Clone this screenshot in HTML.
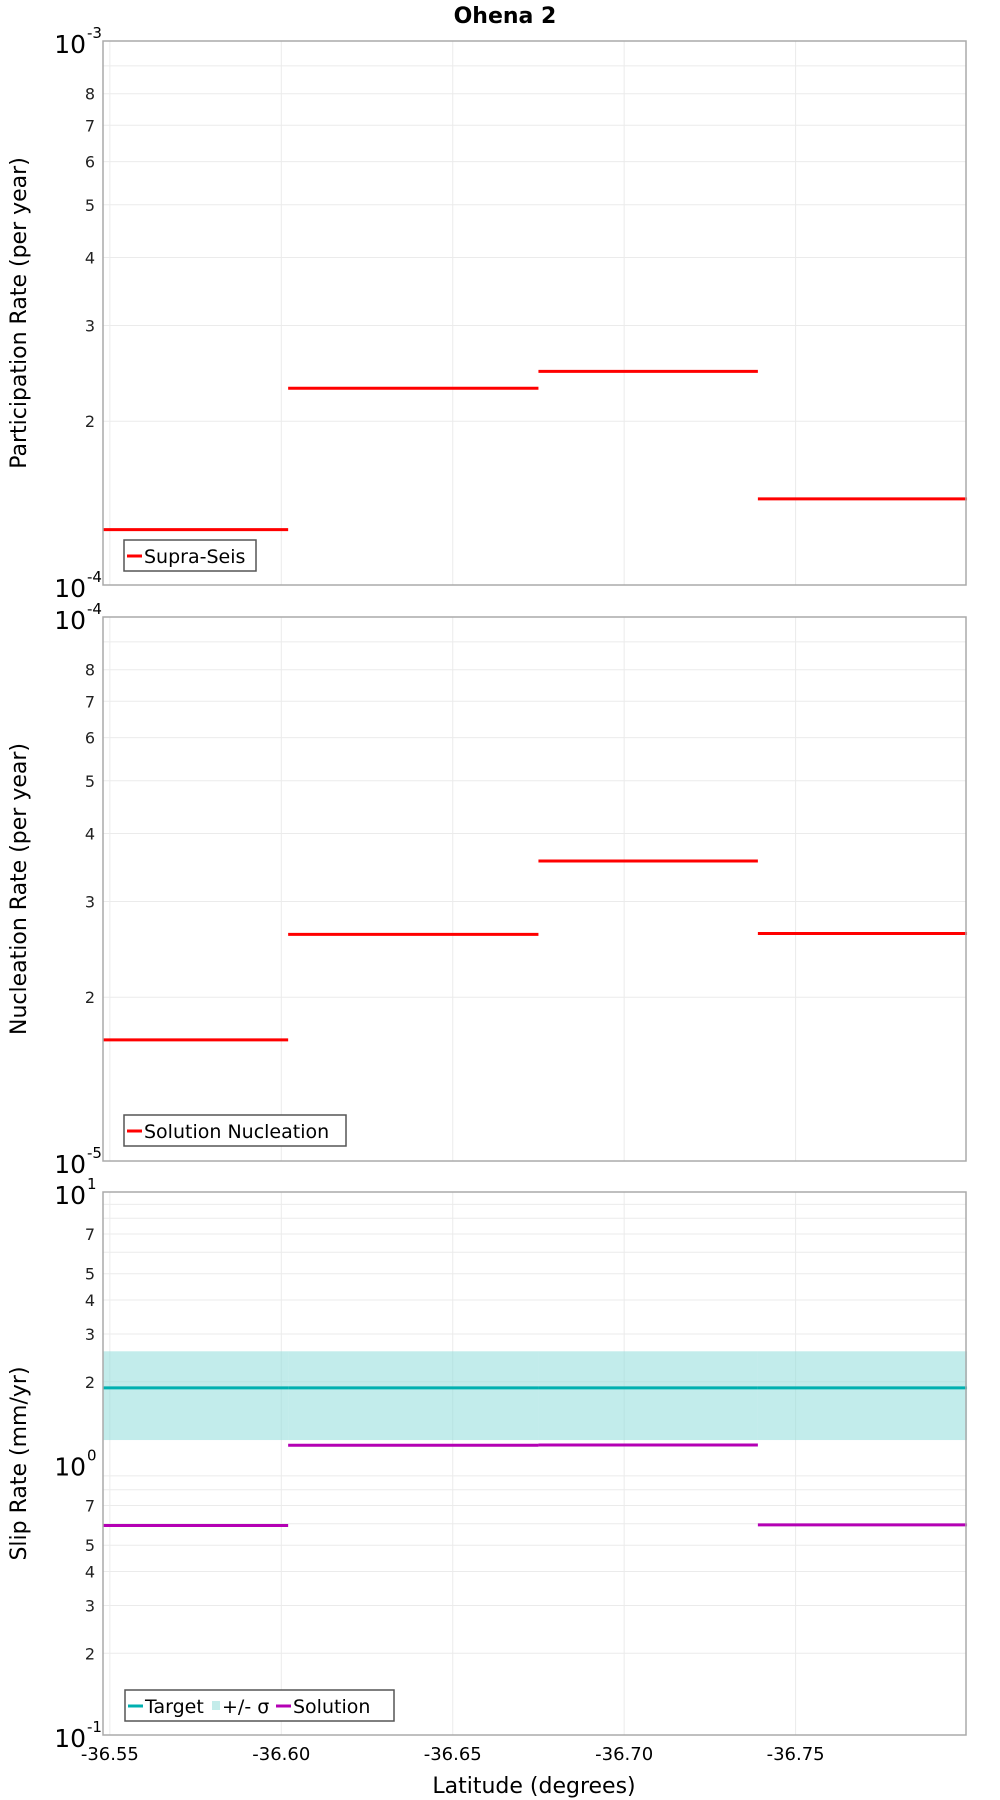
<!DOCTYPE html>
<html><head><meta charset="utf-8"><style>
html,body{margin:0;padding:0;background:#fff;}
svg{display:block;font-family:"DejaVu Sans","Liberation Sans",sans-serif;}
</style></head><body>
<svg id="chart" width="1000" height="1800" viewBox="0 0 1000 1800" xmlns="http://www.w3.org/2000/svg">
<text x="505" y="23" text-anchor="middle" font-size="22" font-weight="bold">Ohena 2</text>
<text x="534" y="1793" text-anchor="middle" font-size="22">Latitude (degrees)</text>
</svg>
<script>
const xTicks = [-36.55, -36.60, -36.65, -36.70, -36.75];
const xTickLabels = ["-36.55", "-36.60", "-36.65", "-36.70", "-36.75"];
const segStarts = [-36.548, -36.602, -36.675, -36.739];
const segEnds = [-36.602, -36.675, -36.739, -36.800];
const supraSeis = [1.264e-4, 2.30e-4, 2.47e-4, 1.44e-4];
const solutionNucleation = [1.67e-5, 2.61e-5, 3.56e-5, 2.62e-5];
const targetSlip = [1.90, 1.90, 1.90, 1.90];
const targetLow = [1.22, 1.22, 1.22, 1.22];
const targetHigh = [2.59, 2.59, 2.59, 2.59];
const solutionSlip = [0.591, 1.167, 1.17, 0.594];

const NS = "http://www.w3.org/2000/svg";
const svg = document.getElementById('chart');
const X0 = 103, X1 = 966, LAT0 = -36.548, LAT1 = -36.7997;
function xs(lat){ return X0 + (lat - LAT0) / (LAT1 - LAT0) * (X1 - X0); }
function mk(tag, attrs, parent){ const e = document.createElementNS(NS, tag); for (const k in attrs) e.setAttribute(k, attrs[k]); (parent||svg).appendChild(e); return e; }

const panels = [
  {top:41, bottom:585, lo:-4, hi:-3, labels:[2,3,4,5,6,7,8], title:"Participation Rate (per year)", name:"participation"},
  {top:617, bottom:1161, lo:-5, hi:-4, labels:[2,3,4,5,6,7,8], title:"Nucleation Rate (per year)", name:"nucleation"},
  {top:1192, bottom:1735, lo:-1, hi:1, labels:[2,3,4,5,7], title:"Slip Rate (mm/yr)", name:"slip"}
];
panels.forEach(p => {
  p.ys = v => p.bottom - (Math.log10(v) - p.lo) / (p.hi - p.lo) * (p.bottom - p.top);
  const g = mk('g', {});
  
  
  for (let d = p.lo; d < p.hi; d++) {
    for (let m = 1; m <= 9; m++) {
      const v = m * Math.pow(10, d);
      const y = p.ys(v);
      if (m > 1) {
        const gl = mk('line', {x1:X0, x2:X1, y1:y, y2:y, stroke:'#ebebeb', 'stroke-width':1}, g);
        
        
      }
      if (m > 1 && p.labels.includes(m)) {
        const t = mk('text', {x:95, y:y+6, 'text-anchor':'end', 'font-size':16, fill:'#222'}, g);
        t.textContent = m;
        
        
      }
    }
  }
  for (let d = p.lo; d <= p.hi; d++) {
    const y = p.ys(Math.pow(10, d));
    const t = mk('text', {x:86, y:y+12, 'text-anchor':'end', 'font-size':25, fill:'#000'}, g);
    t.textContent = '10';
    
    
    const s = mk('text', {x:87, y:y-3, 'text-anchor':'start', 'font-size':15, fill:'#000'}, g);
    s.textContent = String(d);
    
    
  }
  xTicks.forEach(v => {
    const gl = mk('line', {x1:xs(v), x2:xs(v), y1:p.top, y2:p.bottom, stroke:'#ebebeb', 'stroke-width':1}, g);
    
    
  });
  const yt = mk('text', {x:0, y:0, transform:`translate(26,${(p.top+p.bottom)/2}) rotate(-90)`, 'text-anchor':'middle', 'font-size':22, fill:'#000'}, g);
  yt.textContent = p.title;
  
  
  p.g = g;
});

const p1 = panels[0];
supraSeis.forEach((v, i) => {
  const l = mk('line', {x1:xs(segStarts[i]), x2:xs(segEnds[i]), y1:p1.ys(v), y2:p1.ys(v), stroke:'#ff0000', 'stroke-width':3}, p1.g);
  
  
});
const p2 = panels[1];
solutionNucleation.forEach((v, i) => {
  const l = mk('line', {x1:xs(segStarts[i]), x2:xs(segEnds[i]), y1:p2.ys(v), y2:p2.ys(v), stroke:'#ff0000', 'stroke-width':3}, p2.g);
  
  
});
const p3 = panels[2];
targetLow.forEach((v, i) => {
  const x1 = xs(segStarts[i]), x2 = xs(segEnds[i]);
  const r = mk('rect', {x:x1, y:p3.ys(targetHigh[i]), width:x2-x1, height:p3.ys(v)-p3.ys(targetHigh[i]), fill:'#8fdcda', 'fill-opacity':0.55}, p3.g);
  
  
});
targetSlip.forEach((v, i) => {
  const l = mk('line', {x1:xs(segStarts[i]), x2:xs(segEnds[i]), y1:p3.ys(v), y2:p3.ys(v), stroke:'#00b0b0', 'stroke-width':3}, p3.g);
  
  
});
solutionSlip.forEach((v, i) => {
  const l = mk('line', {x1:xs(segStarts[i]), x2:xs(segEnds[i]), y1:p3.ys(v), y2:p3.ys(v), stroke:'#b400b4', 'stroke-width':3}, p3.g);
  
  
});

panels.forEach(p => {
  const f = mk('rect', {x:X0, y:p.top, width:X1-X0, height:p.bottom-p.top, fill:'none', stroke:'#aaaaaa', 'stroke-width':1.5});
  
  
});

xTicks.forEach((v, i) => {
  const t = mk('text', {x:xs(v), y:1760, 'text-anchor':'middle', 'font-size':18, fill:'#000'});
  t.textContent = xTickLabels[i];
  
  
});

function legend(x, y, w, items, name){
  const g = mk('g', {});
  
  
  mk('rect', {x:x, y:y, width:w, height:31, fill:'#fff', stroke:'#555', 'stroke-width':1.5}, g);
  let cx = x + 3;
  items.forEach(it => {
    if (it.band) mk('rect', {x:cx, y:y+11, width:8, height:9, fill:'#c4ecea'}, g);
    else mk('line', {x1:cx, x2:cx+15, y1:y+16, y2:y+16, stroke:it.color, 'stroke-width':3}, g);
    cx += it.band ? 10 : 17;
    const t = mk('text', {x:cx, y:y+23, 'font-size':19, fill:'#000'}, g);
    t.textContent = it.label;
    
    
    cx += it.w;
  });
}
legend(124, 540, 132, [{color:'#ff0000', label:'Supra-Seis', w:110}], 'participation-legend');
legend(124, 1115, 222, [{color:'#ff0000', label:'Solution Nucleation', w:200}], 'nucleation-legend');
legend(125, 1690, 269, [{color:'#00b0b0', label:'Target', w:67},{band:true, label:'+/- σ', w:54},{color:'#b400b4', label:'Solution', w:80}], 'slip-legend');
</script>
</body></html>
